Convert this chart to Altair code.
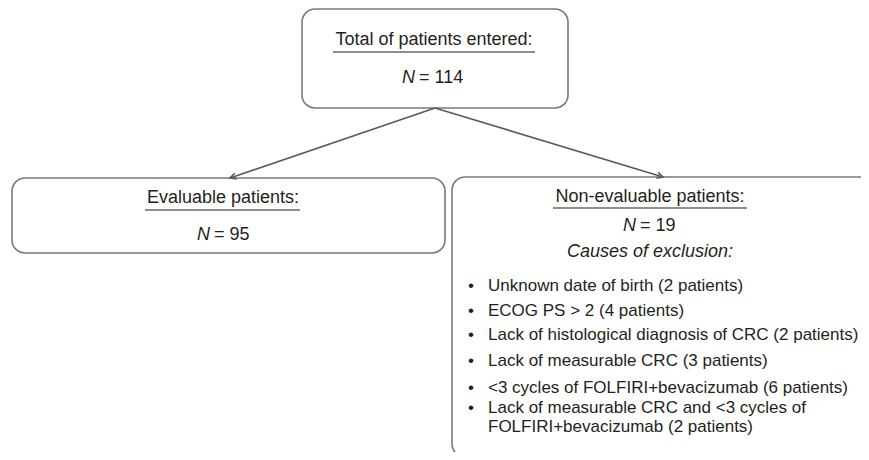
import altair as alt
import pandas as pd
import numpy as np

FONT = "Liberation Sans"

# Box layout (reference pixel coordinates)
box_name = ["total", "evaluable", "nonevaluable"]
box_x1 = [302, 12, 452]
box_x2 = [568, 445, 885]
box_y1 = [9, 178, 177]
box_y2 = [108, 253, 457]

# Headings (underlined)
head_text = ["Total of patients entered:", "Evaluable patients:", "Non-evaluable patients:"]
head_x = [434, 223, 650]
head_y = [40, 198, 197]
under_x1 = [333, 145, 553]
under_x2 = [535, 300, 747]
under_y = [52, 210, 208]

# N counts
n_values = ["114", "95", "19"]
n_left = [402, 197, 623]
n_y = [78, 235, 226]

# Causes of exclusion
causes_title = "Causes of exclusion:"
causes_x = 650
causes_y = 252
bullet_lines = [
    "Unknown date of birth (2 patients)",
    "ECOG PS > 2 (4 patients)",
    "Lack of histological diagnosis of CRC (2 patients)",
    "Lack of measurable CRC (3 patients)",
    "<3 cycles of FOLFIRI+bevacizumab (6 patients)",
    "Lack of measurable CRC and <3 cycles of",
    "FOLFIRI+bevacizumab (2 patients)",
]
bullet_flag = [True, True, True, True, True, True, False]
bullet_y = [286, 311, 335, 361, 388, 408, 427]
bullet_dot_x = 471
bullet_text_x = 488

# Arrows
arrow_x1 = [435, 435]
arrow_y1 = [108, 108]
arrow_x2 = [230, 663]
arrow_y2 = [178, 177]

W, H = 853, 444
xs = alt.Scale(domain=[8, 8 + W], nice=False, zero=False)
ys = alt.Scale(domain=[8, 8 + H], nice=False, zero=False, reverse=True)

def X(f, **kw):
    return alt.X(f, type="quantitative", scale=xs, axis=None, **kw)

def Y(f, **kw):
    return alt.Y(f, type="quantitative", scale=ys, axis=None, **kw)

boxes = pd.DataFrame({"name": box_name, "x1": box_x1, "x2": box_x2, "y1": box_y1, "y2": box_y2})
box_layer = alt.Chart(boxes).mark_rect(
    fillOpacity=0, stroke="#7a7a7a", strokeWidth=1.6, cornerRadius=13, clip=True
).encode(x=X("x1"), x2="x2:Q", y=Y("y1"), y2="y2:Q")

heads = pd.DataFrame({"t": head_text, "x": head_x, "y": head_y})
head_layer = alt.Chart(heads).mark_text(
    font=FONT, fontSize=18, color="#231f20", align="center", baseline="middle"
).encode(x=X("x"), y=Y("y"), text="t:N")

unders = pd.DataFrame({"x1": under_x1, "x2": under_x2, "y": under_y})
under_layer = alt.Chart(unders).mark_rule(color="#231f20", strokeWidth=1.2).encode(
    x=X("x1"), x2="x2:Q", y=Y("y")
)

ndf = pd.DataFrame({"v": ["= " + v for v in n_values], "x": n_left, "y": n_y})
ndf["xv"] = ndf["x"] + 17
n_italic = alt.Chart(ndf).transform_calculate(t="'N'").mark_text(
    font=FONT, fontSize=18, fontStyle="italic", color="#231f20", align="left", baseline="middle"
).encode(x=X("x"), y=Y("y"), text="t:N")
n_value = alt.Chart(ndf).mark_text(
    font=FONT, fontSize=18, color="#231f20", align="left", baseline="middle"
).encode(x=X("xv"), y=Y("y"), text="v:N")

causes = pd.DataFrame({"t": [causes_title], "x": [causes_x], "y": [causes_y]})
causes_layer = alt.Chart(causes).mark_text(
    font=FONT, fontSize=18, fontStyle="italic", color="#231f20", align="center", baseline="middle"
).encode(x=X("x"), y=Y("y"), text="t:N")

bl = pd.DataFrame({"t": bullet_lines, "y": bullet_y, "b": bullet_flag})
bl["x"] = bullet_text_x
bl["bx"] = bullet_dot_x
bullet_text = alt.Chart(bl).mark_text(
    font=FONT, fontSize=17, color="#231f20", align="left", baseline="middle"
).encode(x=X("x"), y=Y("y"), text="t:N")
bullet_dots = alt.Chart(bl[bl["b"]]).transform_calculate(d="'•'").mark_text(
    font=FONT, fontSize=17, color="#231f20", align="center", baseline="middle"
).encode(x=X("bx"), y=Y("y"), text="d:N")

arr = pd.DataFrame({"x1": arrow_x1, "y1": arrow_y1, "x2": arrow_x2, "y2": arrow_y2})
arr["ang"] = (np.degrees(np.arctan2(arr["y2"] - arr["y1"], arr["x2"] - arr["x1"])) % 360).round(2)
arrow_lines = alt.Chart(arr).mark_rule(color="#5a5a5a", strokeWidth=1.6).encode(
    x=X("x1"), y=Y("y1"), x2="x2:Q", y2="y2:Q"
)
arrow_heads = alt.Chart(arr).mark_point(
    shape="M-1.5,-0.75L0,0L-1.5,0.75", filled=False, stroke="#5a5a5a",
    strokeWidth=1.6, size=64, opacity=1
).encode(x=X("x2"), y=Y("y2"), angle=alt.Angle("ang:Q", scale=None))

chart = alt.layer(
    box_layer, arrow_lines, arrow_heads, head_layer, under_layer,
    n_italic, n_value, causes_layer, bullet_text, bullet_dots
).properties(width=W, height=H, padding=0, background="white").configure_view(stroke=None)

chart.save("out.html", embed_options={"renderer": "svg", "actions": False})
